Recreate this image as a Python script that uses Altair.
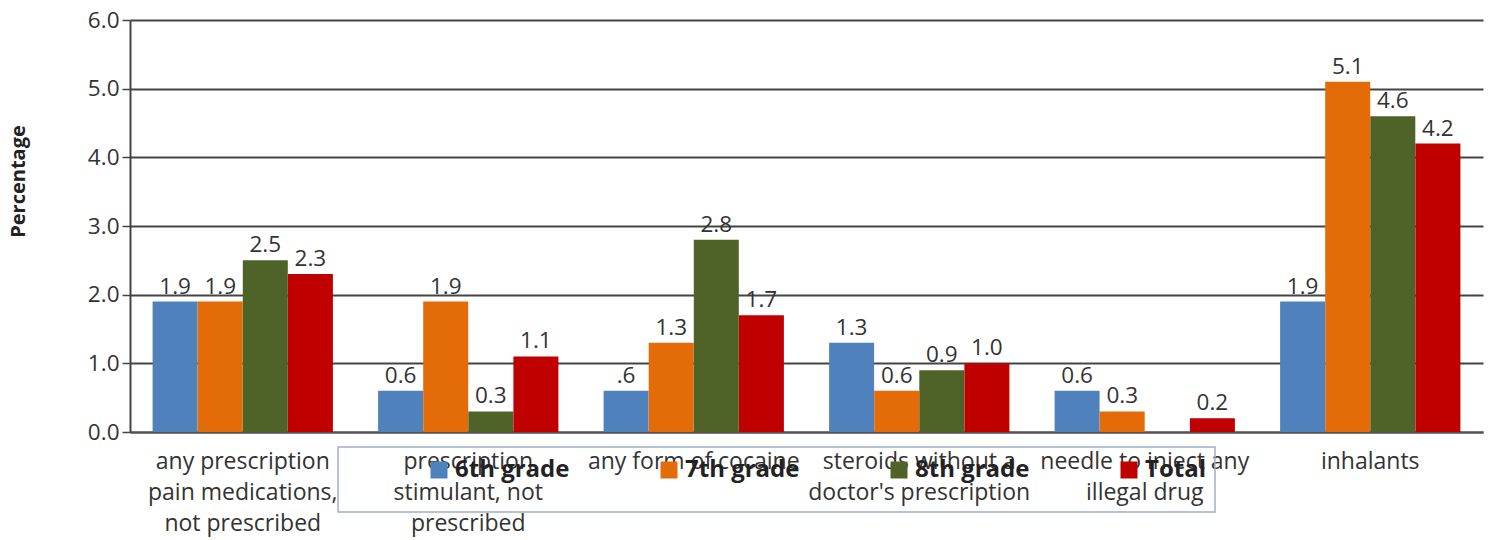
import altair as alt
import pandas as pd

categories = [
    "any prescription|pain medications,|not prescribed",
    "prescription|stimulant, not|prescribed",
    "any form of cocaine",
    "steroids without a|doctor's prescription",
    "needle to inject any|illegal drug",
    "inhalants",
]
series = ["6th grade", "7th grade", "8th grade", "Total"]
colors = ["#4f81bd", "#e36c09", "#4f6228", "#c00000"]

grade6 = [1.9, 0.6, 0.6, 1.3, 0.6, 1.9]
grade7 = [1.9, 1.9, 1.3, 0.6, 0.3, 5.1]
grade8 = [2.5, 0.3, 2.8, 0.9, None, 4.6]
total = [2.3, 1.1, 1.7, 1.0, 0.2, 4.2]

labels6 = ["1.9", "0.6", ".6", "1.3", "0.6", "1.9"]
labels7 = ["1.9", "1.9", "1.3", "0.6", "0.3", "5.1"]
labels8 = ["2.5", "0.3", "2.8", "0.9", "", "4.6"]
labelsT = ["2.3", "1.1", "1.7", "1.0", "0.2", "4.2"]

rows = []
for s, vals, labs in zip(series, [grade6, grade7, grade8, total], [labels6, labels7, labels8, labelsT]):
    for c, v, l in zip(categories, vals, labs):
        if v is not None:
            rows.append({"category": c, "series": s, "value": v, "label": l})
df = pd.DataFrame(rows)

FONT = "Open Sans"
FS = 22.5

x_enc = alt.X(
    "category:N",
    sort=categories,
    title=None,
    scale=alt.Scale(paddingInner=0.2, paddingOuter=0.1),
    axis=alt.Axis(
        labelExpr="split(datum.label, '|')",
        labelAngle=0,
        labelFontSize=23,
        labelFont=FONT,
        labelColor="#333333",
        labelLineHeight=31,
        labelPadding=18,
        labelBaseline="top",
        ticks=False,
        domain=True,
        domainColor="#555555",
        domainWidth=2,
        grid=False,
        labelLimit=400,
    ),
)

y_enc = alt.Y(
    "value:Q",
    title="Percentage",
    scale=alt.Scale(domain=[0, 6]),
    axis=alt.Axis(
        values=[0, 1, 2, 3, 4, 5, 6],
        format=".1f",
        labelFontSize=FS,
        labelFont=FONT,
        labelColor="#333333",
        tickSize=8,
        tickColor="#444444",
        tickWidth=1.5,
        domainColor="#444444",
        domainWidth=2,
        gridColor="#444444",
        gridWidth=1.8,
        titleFont=FONT,
        titleFontSize=20,
        titleFontWeight="bold",
        titleColor="#222222",
        titleX=-112,
        titleY=161,
        titleAngle=-90,
        titleBaseline="middle",
        labelPadding=3,
    ),
)

color_enc = alt.Color(
    "series:N",
    sort=series,
    scale=alt.Scale(domain=series, range=colors),
    legend=alt.Legend(
        title=None,
        orient="none",
        legendX=297,
        legendY=438,
        direction="horizontal",
        columns=4,
        gridAlign="all",
        columnPadding=87,
        symbolType="square",
        symbolSize=289,
        symbolStrokeWidth=0,
        labelFont=FONT,
        labelFontSize=24,
        labelFontWeight="bold",
        labelColor="#222222",
        labelOffset=4,
    ),
)

base = alt.Chart(df)

bars = base.mark_bar(size=45).encode(
    x=x_enc,
    xOffset=alt.XOffset("series:N", sort=series),
    y=y_enc,
    color=color_enc,
)

texts = base.mark_text(
    dy=-3, baseline="bottom", fontSize=FS, font=FONT, color="#333333"
).encode(
    x=alt.X("category:N", sort=categories),
    xOffset=alt.XOffset("series:N", sort=series),
    y="value:Q",
    text="label:N",
)

box = alt.Chart(pd.DataFrame({"a": [0]})).mark_rect(
    fill=None, stroke="#9fb0c8", strokeWidth=1.5
).encode(
    x=alt.value(208), x2=alt.value(1085), y=alt.value(427), y2=alt.value(492)
)

chart = alt.layer(box, bars, texts).properties(
    width=1353,
    height=412,
    autosize=alt.AutoSizeParams(type="none"),
    padding={"left": 122, "top": 12, "right": 2, "bottom": 106},
).configure_view(stroke=None).configure_axisX(grid=False)

chart.save("out.html", embed_options={"renderer": "svg", "actions": False})
